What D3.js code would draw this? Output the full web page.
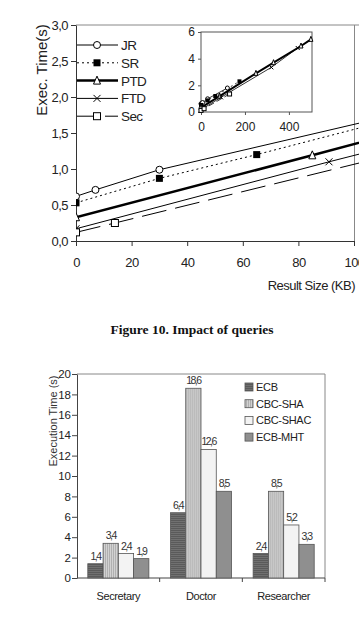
<!DOCTYPE html>
<html>
<head>
<meta charset="utf-8">
<script src="https://cdn.jsdelivr.net/npm/d3@7"></script>
<style>
  body { margin: 0; background: #fff; }
  svg { display: block; font-family: "Liberation Sans", Arial, sans-serif; }
</style>
</head>
<body>
<svg id="fig" width="359" height="624"></svg>
<script>
// ---- Figure: Result size vs exec time (x in KB, y in s)
var jrX  = [0, 7, 30, 120],            jrY  = [0.62, 0.71, 0.99, 1.8];
var srX  = [0, 30, 65, 175],           srY  = [0.53, 0.87, 1.2, 2.3];
var ptdX = [0, 85, 250, 330, 455, 500], ptdY = [0.33, 1.19, 2.9, 3.7, 4.95, 5.45];
var ftdX = [0, 91, 320, 440],          ftdY = [0.17, 1.1, 3.35, 4.8];
var secX = [0, 14, 130],               secY = [0.12, 0.25, 1.35];
var seriesNames = ["JR", "SR", "PTD", "FTD", "Sec"];
var mainYTicks = [0, 0.5, 1, 1.5, 2, 2.5, 3];
var mainXTicks = [0, 20, 40, 60, 80, 100];
var insetYTicks = [0, 2, 4, 6];
var insetXTicks = [0, 200, 400];

// ---- Figure: execution time per role
var roles = ["Secretary", "Doctor", "Researcher"];
var schemes = ["ECB", "CBC-SHA", "CBC-SHAC", "ECB-MHT"];
var ecb     = [1.4, 6.4, 2.4];
var cbcSha  = [3.4, 18.6, 8.5];
var cbcShac = [2.4, 12.6, 5.2];
var ecbMht  = [1.9, 8.5, 3.3];
var barYTicks = [0, 2, 4, 6, 8, 10, 12, 14, 16, 18, 20];

var svg = d3.select("#fig");
var comma = function(v) { return d3.format(".1f")(v).replace(".", ","); };

var series = [
  {name: "JR",  xs: jrX,  ys: jrY,  width: 1,   dash: null,   marker: "circle"},
  {name: "SR",  xs: srX,  ys: srY,  width: 1,   dash: "2,3",  marker: "fsquare"},
  {name: "PTD", xs: ptdX, ys: ptdY, width: 2.5, dash: null,   marker: "triangle"},
  {name: "FTD", xs: ftdX, ys: ftdY, width: 1,   dash: null,   marker: "cross"},
  {name: "Sec", xs: secX, ys: secY, width: 1,   dash: "25,9", marker: "square"}
];
series.forEach(function(s) {
  s.pts = s.xs.map(function(x, i) { return [x, s.ys[i]]; });
});

function drawMarker(g, type, cx, cy, sz) {
  var h = sz / 2;
  if (type == "circle") {
    g.append("circle").attr("cx", cx).attr("cy", cy).attr("r", h)
      .attr("fill", "#fff").attr("stroke", "#000").attr("stroke-width", 1);
  } else if (type == "fsquare") {
    g.append("rect").attr("x", cx - h).attr("y", cy - h).attr("width", sz).attr("height", sz)
      .attr("fill", "#000");
  } else if (type == "square") {
    g.append("rect").attr("x", cx - h).attr("y", cy - h).attr("width", sz).attr("height", sz)
      .attr("fill", "#fff").attr("stroke", "#000").attr("stroke-width", 1);
  } else if (type == "triangle") {
    g.append("path").attr("d", "M" + cx + "," + (cy - h - 1) + "L" + (cx + h) + "," + (cy + h) + "L" + (cx - h) + "," + (cy + h) + "Z")
      .attr("fill", "#fff").attr("stroke", "#000").attr("stroke-width", 1);
  } else if (type == "cross") {
    g.append("path").attr("d", "M" + (cx - h) + "," + (cy - h) + "L" + (cx + h) + "," + (cy + h) + "M" + (cx - h) + "," + (cy + h) + "L" + (cx + h) + "," + (cy - h))
      .attr("stroke", "#000").attr("stroke-width", 1).attr("fill", "none");
  }
}

// ================= upper line chart =================
var x1 = d3.scaleLinear().domain([0, 100]).range([76, 354]);
var y1 = d3.scaleLinear().domain([0, 3]).range([241, 25]);

svg.append("defs").append("clipPath").attr("id", "clipMain")
  .append("rect").attr("x", 76).attr("y", 25).attr("width", 283).attr("height", 216);

// plot frame
svg.append("line").attr("x1", 76).attr("x2", 359).attr("y1", 25).attr("y2", 25).attr("stroke", "#888");
svg.append("line").attr("x1", 354.5).attr("x2", 354.5).attr("y1", 25).attr("y2", 241).attr("stroke", "#888");

var yAx1 = svg.append("g").attr("transform", "translate(76,0)")
  .call(d3.axisLeft(y1).tickValues(mainYTicks).tickFormat(comma).tickSize(5).tickSizeOuter(0));
var xAx1 = svg.append("g").attr("transform", "translate(0,241)")
  .call(d3.axisBottom(x1).tickValues(mainXTicks).tickSize(5).tickSizeOuter(0));
[yAx1, xAx1].forEach(function(a) {
  a.selectAll("path, line").attr("stroke", "#333");
  a.selectAll("text").attr("font-size", "13px").attr("fill", "#222").attr("letter-spacing", "-0.5");
});
yAx1.selectAll("text").attr("x", -8);
xAx1.selectAll("text").attr("y", 17);

svg.append("text").attr("transform", "translate(47,70) rotate(-90)")
  .attr("text-anchor", "middle").attr("font-size", "15px").attr("fill", "#222")
  .text("Exec. Time(s)");
svg.append("text").attr("x", 355).attr("y", 290).attr("text-anchor", "end")
  .attr("font-size", "13px").attr("fill", "#222").attr("letter-spacing", "-0.5")
  .text("Result Size (KB)");

var main = svg.append("g").attr("clip-path", "url(#clipMain)");
var line1 = d3.line().x(function(d) { return x1(d[0]); }).y(function(d) { return y1(d[1]); });
series.forEach(function(s) {
  main.append("path").attr("d", line1(s.pts)).attr("fill", "none")
    .attr("stroke", "#000").attr("stroke-width", s.width)
    .attr("stroke-dasharray", s.dash);
});
series.forEach(function(s) {
  s.pts.forEach(function(p) {
    if (p[0] <= 102) drawMarker(main, s.marker, x1(p[0]), y1(p[1]), 7);
  });
});

// legend
var lg = svg.append("g");
series.forEach(function(s, i) {
  var cy = 45 + i * 17.8;
  lg.append("line").attr("x1", 77).attr("x2", 118).attr("y1", cy).attr("y2", cy)
    .attr("stroke", "#000").attr("stroke-width", s.width).attr("stroke-dasharray", s.dash == "25,9" ? "20,8" : s.dash);
  drawMarker(lg, s.marker, 97, cy, 7);
  lg.append("text").attr("x", 121).attr("y", cy + 5).attr("font-size", "13.5px")
    .attr("fill", "#222").attr("letter-spacing", "-0.6").text(s.name);
});

// inset
var x2 = d3.scaleLinear().domain([0, 505]).range([201, 312]);
var y2 = d3.scaleLinear().domain([0, 6]).range([112, 32]);
svg.append("rect").attr("x", 201).attr("y", 32).attr("width", 111).attr("height", 80)
  .attr("fill", "#fff").attr("stroke", "#555");
var yAx2 = svg.append("g").attr("transform", "translate(201,0)")
  .call(d3.axisLeft(y2).tickValues(insetYTicks).tickFormat(d3.format("d")).tickSize(3).tickSizeOuter(0));
var xAx2 = svg.append("g").attr("transform", "translate(0,112)")
  .call(d3.axisBottom(x2).tickValues(insetXTicks).tickFormat(d3.format("d")).tickSize(3).tickSizeOuter(0));
[yAx2, xAx2].forEach(function(a) {
  a.select(".domain").remove();
  a.selectAll("line").attr("stroke", "#555");
  a.selectAll("text").attr("font-size", "12px").attr("fill", "#222");
});
yAx2.selectAll("text").attr("x", -6);
xAx2.selectAll("text").attr("y", 10);
var line2 = d3.line().x(function(d) { return x2(d[0]); }).y(function(d) { return y2(d[1]); });
var ins = svg.append("g");
series.forEach(function(s) {
  ins.append("path").attr("d", line2(s.pts)).attr("fill", "none")
    .attr("stroke", "#000").attr("stroke-width", s.width == 1 ? 0.8 : 2)
    .attr("stroke-dasharray", s.dash == "25,9" ? "6,3" : s.dash);
});
series.forEach(function(s) {
  s.pts.forEach(function(p) { drawMarker(ins, s.marker, x2(p[0]), y2(p[1]), 4); });
});

// caption
svg.append("text").attr("x", 192).attr("y", 334).attr("text-anchor", "middle")
  .attr("font-family", "Liberation Serif, Times New Roman, serif").attr("font-weight", "bold")
  .attr("font-size", "13.5px").attr("fill", "#111").text("Figure 10. Impact of queries");

// ================= lower bar chart =================
var defs = svg.select("defs");
var p1 = defs.append("pattern").attr("id", "hstripe").attr("patternUnits", "userSpaceOnUse")
  .attr("width", 4).attr("height", 2);
p1.append("rect").attr("width", 4).attr("height", 2).attr("fill", "#707070");
p1.append("rect").attr("width", 4).attr("height", 1).attr("fill", "#5a5a5a");
var p2 = defs.append("pattern").attr("id", "vstripe").attr("patternUnits", "userSpaceOnUse")
  .attr("width", 2).attr("height", 4);
p2.append("rect").attr("width", 2).attr("height", 4).attr("fill", "#d2d2d2");
p2.append("rect").attr("width", 1).attr("height", 4).attr("fill", "#b0b0b0");

var fills = ["url(#hstripe)", "url(#vstripe)", "#f3f3f3", "#8f8f8f"];
var values = [ecb, cbcSha, cbcShac, ecbMht];

var xb = d3.scaleBand().domain(roles).range([77, 325]).padding(0);
var xs = d3.scaleBand().domain(schemes).range([10.8, xb.bandwidth() - 10.8]).padding(0);
var yb = d3.scaleLinear().domain([0, 20]).range([578, 374]);

svg.append("line").attr("x1", 77).attr("x2", 325).attr("y1", 374).attr("y2", 374).attr("stroke", "#888");
svg.append("line").attr("x1", 325).attr("x2", 325).attr("y1", 374).attr("y2", 578).attr("stroke", "#888");

var yAxB = svg.append("g").attr("transform", "translate(77,0)")
  .call(d3.axisLeft(yb).tickValues(barYTicks).tickSize(5).tickSizeOuter(0));
yAxB.selectAll("path, line").attr("stroke", "#444");
yAxB.selectAll("text").attr("font-size", "11.5px").attr("fill", "#222").attr("x", -6);

var xAxB = svg.append("g").attr("transform", "translate(0,578)");
xAxB.append("line").attr("x1", 77).attr("x2", 325).attr("stroke", "#444");
xAxB.selectAll(".tk").data(roles).enter().append("line")
  .attr("x1", function(d) { return xb(d) + xb.bandwidth(); })
  .attr("x2", function(d) { return xb(d) + xb.bandwidth(); })
  .attr("y1", 0).attr("y2", 4).attr("stroke", "#444");
xAxB.selectAll(".lbl").data(roles).enter().append("text")
  .attr("x", function(d) { return xb(d) + xb.bandwidth() / 2; })
  .attr("y", 22).attr("text-anchor", "middle").attr("font-size", "11px")
  .attr("fill", "#222").attr("letter-spacing", "-0.4").text(function(d) { return d; });

svg.append("text").attr("transform", "translate(57,421) rotate(-90)")
  .attr("text-anchor", "middle").attr("font-size", "11px").attr("fill", "#333")
  .text("Execution Time (s)");

var groups = svg.selectAll(".grp").data(roles).enter().append("g")
  .attr("transform", function(d) { return "translate(" + xb(d) + ",0)"; });
groups.each(function(role, ri) {
  var g = d3.select(this);
  schemes.forEach(function(sc, si) {
    var v = values[si][ri];
    g.append("rect").attr("x", xs(sc)).attr("y", yb(v))
      .attr("width", xs.bandwidth()).attr("height", yb(0) - yb(v))
      .attr("fill", fills[si]).attr("stroke", "#555").attr("stroke-width", 0.8);
    g.append("text").attr("x", xs(sc) + xs.bandwidth() / 2).attr("y", yb(v) - 4)
      .attr("text-anchor", "middle").attr("font-size", "10.5px").attr("fill", "#333")
      .attr("letter-spacing", "-1.5").text(comma(v));
  });
});

// legend
var lb = svg.append("g");
schemes.forEach(function(sc, i) {
  var cy = 387 + i * 16.7;
  lb.append("rect").attr("x", 245).attr("y", cy - 4).attr("width", 8).attr("height", 8)
    .attr("fill", fills[i]).attr("stroke", "#555").attr("stroke-width", 0.8);
  lb.append("text").attr("x", 256).attr("y", cy + 4).attr("font-size", "11px")
    .attr("fill", "#222").attr("letter-spacing", "-0.3").text(sc);
});
</script>
</body>
</html>
